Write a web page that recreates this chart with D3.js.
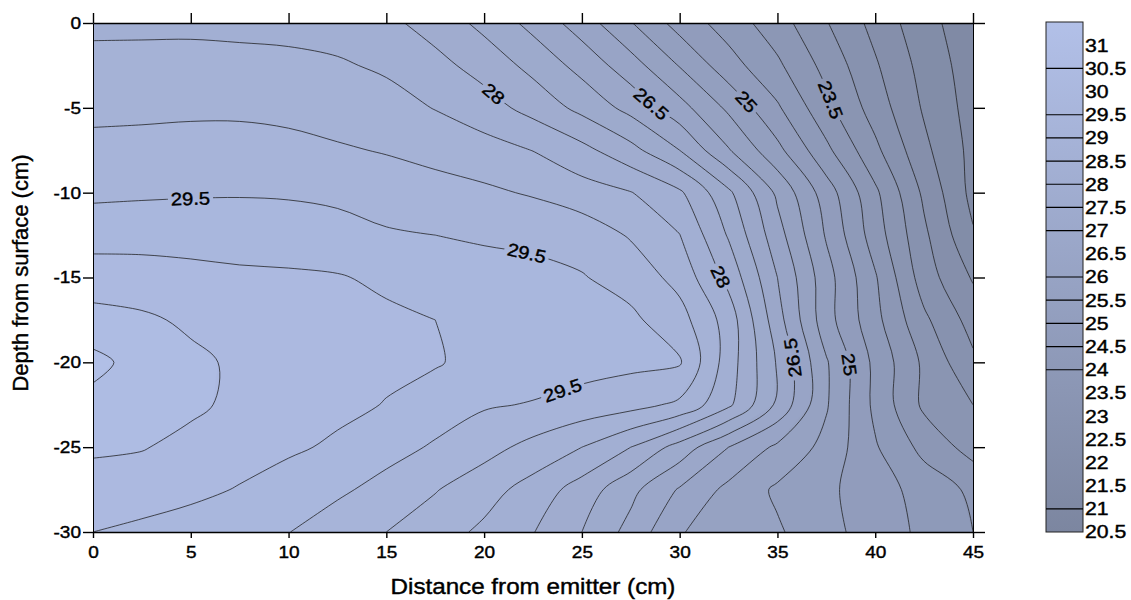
<!DOCTYPE html>
<html>
<head>
<meta charset="utf-8">
<script src="https://cdn.jsdelivr.net/npm/d3@7"></script>
<style>
  body { margin: 0; background: #fff; }
  svg { display: block; }
  text { font-family: "Liberation Sans", Arial, sans-serif; fill: #000; stroke: #000; stroke-width: 0.4px; }
</style>
</head>
<body>
<svg id="chart" width="1131" height="600"></svg>
<script>
// Measurement grid: distance from emitter (cm) by depth from surface (cm)
const distances = [0, 2.5, 5, 7.5, 10, 12.5, 15, 17.5, 20, 22.5, 25, 27.5, 30, 32.5, 35, 37.5, 40, 42.5, 45];
const depths = [0, -2.5, -5, -7.5, -10, -12.5, -15, -17.5, -20, -22.5, -25, -27.5, -30];

// Soil temperature (°C) along each depth row
const tempAt0    = [28.40, 28.40, 28.40, 28.38, 28.35, 28.28, 28.12, 27.80, 27.36, 26.85, 26.26, 25.53, 24.80, 24.27, 23.72, 23.03, 22.34, 21.67, 21.20];
const tempAt2_5  = [28.64, 28.65, 28.66, 28.64, 28.62, 28.56, 28.42, 28.15, 27.81, 27.35, 26.83, 26.22, 25.47, 24.71, 24.09, 23.34, 22.56, 21.82, 21.25];
const tempAt5    = [28.88, 28.90, 28.92, 28.92, 28.88, 28.80, 28.70, 28.48, 28.21, 27.83, 27.36, 26.84, 26.19, 25.40, 24.57, 23.64, 22.77, 21.94, 21.30];
const tempAt7_5  = [29.14, 29.15, 29.17, 29.17, 29.13, 29.05, 28.97, 28.85, 28.70, 28.49, 28.15, 27.66, 27.00, 26.04, 25.14, 24.12, 23.12, 22.12, 21.35];
const tempAt10   = [29.40, 29.43, 29.45, 29.46, 29.44, 29.37, 29.25, 29.18, 29.09, 28.95, 28.72, 28.52, 28.08, 27.10, 25.90, 24.75, 23.60, 22.40, 21.35];
const tempAt12_5 = [29.80, 29.81, 29.82, 29.81, 29.79, 29.72, 29.56, 29.50, 29.45, 29.40, 29.30, 28.95, 28.51, 27.45, 26.20, 24.95, 23.75, 22.60, 21.55];
const tempAt15   = [30.25, 30.22, 30.14, 30.08, 30.06, 30.03, 29.92, 29.75, 29.65, 29.62, 29.53, 29.31, 28.83, 27.85, 26.50, 25.20, 24.05, 22.75, 21.95];
const tempAt17_5 = [30.67, 30.58, 30.42, 30.28, 30.20, 30.15, 30.08, 30.00, 29.77, 29.72, 29.66, 29.60, 29.20, 28.28, 26.70, 25.20, 24.15, 23.10, 22.30];
const tempAt20   = [31.15, 30.80, 30.60, 30.42, 30.30, 30.20, 30.10, 30.05, 29.80, 29.75, 29.70, 29.62, 29.55, 28.25, 26.95, 25.55, 24.37, 23.40, 22.60];
const tempAt22_5 = [30.84, 30.75, 30.60, 30.38, 30.25, 30.12, 29.98, 29.72, 29.55, 29.47, 29.31, 29.17, 28.90, 28.10, 26.90, 25.55, 24.38, 23.40, 23.00];
const tempAt25   = [30.57, 30.53, 30.35, 30.20, 30.08, 29.92, 29.66, 29.45, 29.18, 28.85, 28.50, 28.00, 27.30, 26.50, 25.90, 25.35, 24.55, 23.85, 23.30];
const tempAt27_5 = [30.30, 30.22, 30.12, 29.97, 29.77, 29.58, 29.35, 29.03, 28.70, 28.30, 27.78, 27.14, 26.45, 25.87, 25.42, 25.10, 24.73, 24.30, 23.90];
const tempAt30   = [30.00, 29.90, 29.78, 29.63, 29.51, 29.26, 29.00, 28.72, 28.40, 28.02, 27.50, 26.83, 26.03, 25.78, 25.56, 25.17, 24.75, 24.40, 24.00];

const tempRows = [tempAt0, tempAt2_5, tempAt5, tempAt7_5, tempAt10, tempAt12_5, tempAt15,
                  tempAt17_5, tempAt20, tempAt22_5, tempAt25, tempAt27_5, tempAt30];

// Contour levels (0.5 °C interval) and legend entries
const contourLevels = [20.5, 21, 21.5, 22, 22.5, 23, 23.5, 24, 24.5, 25, 25.5, 26, 26.5, 27, 27.5, 28, 28.5, 29, 29.5, 30, 30.5, 31];
const legendLabels = [31, 30.5, 30, 29.5, 29, 28.5, 28, 27.5, 27, 26.5, 26, 25.5, 25, 24.5, 24, 23.5, 23, 22.5, 22, 21.5, 21, 20.5];
const legendLines = [30.5, 29.5, 29, 28.5, 28, 27.5, 27, 26, 25.5, 25, 24.5, 24, 21];
const legendRange = [20.5, 31.5];

// Labelled contours, the spot (distance, depth) each label sits near,
// and whether a near-vertical label reads upward
const labelLevels = [28, 26.5, 25, 23.5, 29.5, 29.5, 28, 26.5, 25, 29.5];
const labelSpots = [[20.45, -4.24], [28.73, -4.54], [33.49, -4.54], [37.68, -4.54], [4.96, -10.25],
                    [22.19, -13.55], [32.06, -14.97], [35.79, -19.74], [38.6, -20.15], [23.98, -21.63]];
const labelReadsUp = [false, false, false, false, false, false, false, true, false, false];

const distanceTicks = [0, 5, 10, 15, 20, 25, 30, 35, 40, 45];
const depthTicks = [0, -5, -10, -15, -20, -25, -30];

// ---- layout ----
const plot = { left: 93, right: 973, top: 23, bottom: 532 };
const stretch = 1.12;          // horizontal stretch of the lettering
const svg = d3.select("#chart");
const fmt = d => String(d);    // plain hyphen-minus, as on the axes

const x = d3.scaleLinear().domain(d3.extent(distances)).range([plot.left, plot.right]);
const y = d3.scaleLinear().domain([depths[0], depths[depths.length - 1]]).range([plot.top, plot.bottom]);
const color = d3.scaleLinear().domain(legendRange).range(["#7c86a0", "#b2c0e8"]).interpolate(d3.interpolateRgb);

const nx = distances.length, ny = depths.length;
const values = tempRows.flat();

// grid coordinates from d3.contours (value i sits at i + 0.5) -> data units
const gx = d3.scaleLinear().domain([0.5, nx - 0.5]).range([distances[0], distances[nx - 1]]);
const gy = d3.scaleLinear().domain([0.5, ny - 0.5]).range([depths[0], depths[ny - 1]]);
const toPx = p => [x(gx(p[0])), y(gy(p[1]))];

const contours = d3.contours().size([nx, ny]).thresholds(contourLevels)(values);

const defs = svg.append("defs");
defs.append("clipPath").attr("id", "plotClip")
  .append("rect").attr("x", plot.left).attr("y", plot.top)
  .attr("width", plot.right - plot.left).attr("height", plot.bottom - plot.top);
const mask = defs.append("mask").attr("id", "labelMask")
  .attr("maskUnits", "userSpaceOnUse").attr("x", 0).attr("y", 0).attr("width", 1131).attr("height", 600);
mask.append("rect").attr("width", 1131).attr("height", 600).attr("fill", "#fff");

// ---- filled bands ----
const projection = d3.geoTransform({
  point(px, py) { const q = toPx([px, py]); this.stream.point(q[0], q[1]); }
});
const geo = d3.geoPath(projection);
const plotG = svg.append("g").attr("clip-path", "url(#plotClip)");
plotG.append("rect").attr("x", plot.left).attr("y", plot.top)
  .attr("width", plot.right - plot.left).attr("height", plot.bottom - plot.top)
  .attr("fill", color(legendRange[0]));
plotG.append("g").selectAll("path").data(contours).join("path")
  .attr("d", geo)
  .attr("fill", d => color(d.value + 0.25))
  .attr("stroke", d => color(d.value + 0.25)).attr("stroke-width", 0.3);

// ---- isolines: contour rings with the outer frame segments removed ----
function isolines(mp) {
  const out = [];
  const onFrame = p => p[0] <= 0 || p[0] >= nx || p[1] <= 0 || p[1] >= ny;
  for (const poly of mp.coordinates) {
    for (const ring of poly) {
      const pts = ring.slice(0, -1);
      const flags = pts.map(onFrame);
      const k = flags.indexOf(true);
      if (k < 0) { out.push({ level: mp.value, closed: true, pts }); continue; }
      let run = [];
      for (let i = 1; i <= pts.length; i++) {
        const idx = (k + i) % pts.length;
        if (flags[idx]) {
          if (run.length > 1) out.push({ level: mp.value, closed: false, pts: run });
          run = [];
        } else run.push(pts[idx]);
      }
    }
  }
  return out;
}
const lines = contours.filter(c => c.value > legendRange[0]).flatMap(isolines);

const openGen = d3.line().curve(d3.curveCatmullRom.alpha(0.5));
const closedGen = d3.line().curve(d3.curveCatmullRomClosed.alpha(0.5));

const lineG = plotG.append("g").attr("mask", "url(#labelMask)");
const linePaths = lineG.selectAll("path").data(lines).join("path")
  .attr("d", d => (d.closed ? closedGen : openGen)(d.pts.map(toPx)))
  .attr("fill", "none")
  .attr("stroke", "#1c1c1c")
  .attr("stroke-width", 0.75);

// ---- contour labels placed on their own line ----
const labelG = svg.append("g");
labelLevels.forEach((lvl, i) => {
  const ax = x(labelSpots[i][0]), ay = y(labelSpots[i][1]);
  let best = null;
  linePaths.filter(d => Math.abs(d.level - lvl) < 1e-6).each(function () {
    const len = this.getTotalLength();
    for (let s = 0; s <= len; s += 1) {
      const p = this.getPointAtLength(s);
      const dd = (p.x - ax) ** 2 + (p.y - ay) ** 2;
      if (!best || dd < best.dd) best = { dd, node: this, s, len, p };
    }
  });
  if (!best) return;
  const a = best.node.getPointAtLength(Math.max(0, best.s - 8));
  const b = best.node.getPointAtLength(Math.min(best.len, best.s + 8));
  let ang = Math.atan2(b.y - a.y, b.x - a.x) * 180 / Math.PI;
  if (ang > 90) ang -= 180;
  if (ang <= -90) ang += 180;
  if (labelReadsUp[i] && ang > 45) ang -= 180;
  const tf = `translate(${best.p.x},${best.p.y}) rotate(${ang})`;
  const t = labelG.append("text").attr("transform", `${tf} scale(${stretch},1)`)
    .attr("text-anchor", "middle").attr("dy", "0.36em")
    .attr("font-size", 18).text(fmt(lvl));
  const w = t.node().getComputedTextLength() * stretch;
  mask.append("rect").attr("transform", tf)
    .attr("x", -w / 2 - 3).attr("y", -9).attr("width", w + 6).attr("height", 18).attr("fill", "#000");
});

// ---- axes ----
const axisStyle = (g, w) => {
  g.select(".domain").attr("stroke", "#000").attr("stroke-width", w);
  g.selectAll(".tick line").attr("stroke", "#000").attr("stroke-width", 1.4);
  g.selectAll("text").attr("font-family", null).attr("font-size", 17).attr("fill", "#000");
};

svg.append("g").attr("transform", `translate(0,${plot.bottom})`)
  .call(d3.axisBottom(x).tickValues(distanceTicks).tickSize(6).tickSizeOuter(0).tickPadding(8).tickFormat(fmt))
  .call(g => axisStyle(g, 1.6))
  .call(g => g.selectAll("text").attr("transform", `scale(${stretch},1)`));
svg.append("g").attr("transform", `translate(0,${plot.top})`)
  .call(d3.axisTop(x).tickValues(distanceTicks).tickSize(10).tickSizeOuter(0).tickFormat(""))
  .call(g => axisStyle(g, 1.6));
svg.append("g").attr("transform", `translate(${plot.left},0)`)
  .call(d3.axisLeft(y).tickValues(depthTicks).tickSize(10).tickSizeOuter(0).tickPadding(2).tickFormat(fmt))
  .call(g => axisStyle(g, 1))
  .call(g => g.selectAll("text").attr("x", -12 / stretch).attr("transform", `scale(${stretch},1)`));
svg.append("g").attr("transform", `translate(${plot.right},0)`)
  .call(d3.axisRight(y).tickValues(depthTicks).tickSize(12).tickSizeOuter(0).tickFormat(""))
  .call(g => axisStyle(g, 1));

// axis titles
svg.append("text")
  .attr("transform", `translate(${(plot.left + plot.right) / 2},594) scale(1.1,1)`)
  .attr("text-anchor", "middle").attr("font-size", 22).text("Distance from emitter (cm)");
svg.append("text").attr("transform", `translate(28,273) rotate(-90)`)
  .attr("text-anchor", "middle").attr("font-size", 22).text("Depth from surface (cm)");

// ---- colour bar ----
const bar = { x: 1046, w: 37 };
const ly = d3.scaleLinear().domain(legendRange).range([plot.bottom, 22]);
const grad = defs.append("linearGradient").attr("id", "barGrad")
  .attr("x1", 0).attr("y1", 1).attr("x2", 0).attr("y2", 0);
grad.selectAll("stop").data(legendRange).join("stop")
  .attr("offset", (d, i) => i)
  .attr("stop-color", d => color(d));
svg.append("rect").attr("x", bar.x).attr("y", ly(legendRange[1]))
  .attr("width", bar.w).attr("height", ly(legendRange[0]) - ly(legendRange[1]))
  .attr("fill", "url(#barGrad)").attr("stroke", "#222").attr("stroke-width", 1);
svg.append("g").selectAll("line").data(legendLines).join("line")
  .attr("x1", bar.x).attr("x2", bar.x + bar.w)
  .attr("y1", d => ly(d)).attr("y2", d => ly(d))
  .attr("stroke", "#000").attr("stroke-width", 1.2);
svg.append("g").selectAll("text").data(legendLabels).join("text")
  .attr("transform", d => `translate(${bar.x + bar.w + 2},${ly(d)}) scale(1.18,1)`)
  .attr("dy", "0.36em")
  .attr("font-size", 18).text(fmt);
</script>
</body>
</html>
